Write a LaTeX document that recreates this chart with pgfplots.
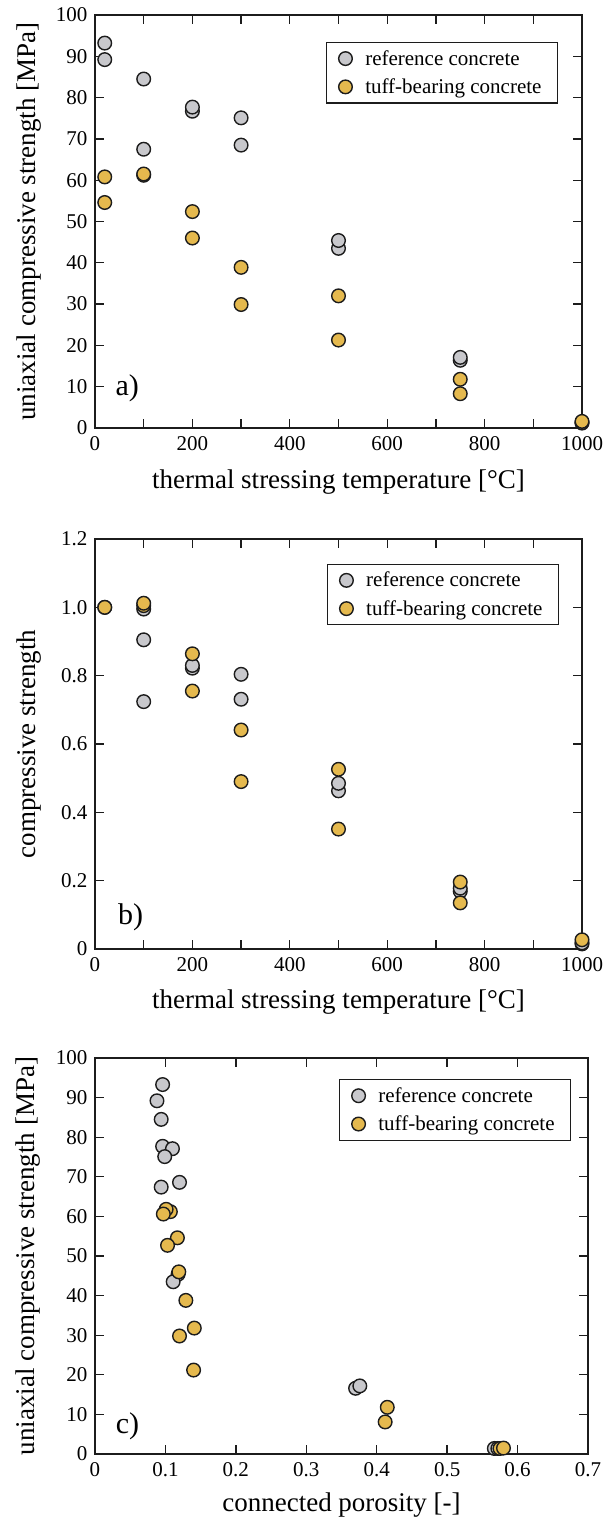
\documentclass[border=0pt]{standalone}
\usepackage{fontspec}
\setmainfont{Liberation Serif}
\usepackage{pgfplots}
\pgfplotsset{compat=1.18}

\definecolor{refgray}{RGB}{200,200,204}
\definecolor{tuffyel}{RGB}{229,185,78}
\definecolor{edge}{RGB}{28,28,28}

\newcommand{\gap}{\hspace*{9pt}}

\pgfplotsset{
  panel/.style={
    scale only axis,
    clip=false,
    axis line style={line width=1.6pt, edge},
    tick style={line width=1.3pt, edge},
    tick align=inside,
    major tick length=9pt,
    minor tick length=9pt,
    tick label style={font=\fontsize{21}{21}\selectfont},
    xticklabel style={yshift=-5pt},
    yticklabel style={xshift=-4pt},
    /pgf/number format/assume math mode=true,
    /pgf/number format/set thousands separator={},
    label style={font=\fontsize{27}{27}\selectfont},
    xlabel style={at={(axis description cs:0.5,-0.13)}, anchor=center},
    ylabel style={at={(axis description cs:-0.135,0.5)}, anchor=center},
    legend cell align=left,
    legend style={anchor=north east, draw=edge, line width=1.2pt,
      font=\fontsize{21}{23}\selectfont, inner xsep=12pt, inner ysep=6pt,
      row sep=8pt, nodes={inner xsep=4pt}},
  },
  refc/.style={only marks, mark=*, mark size=6.8pt,
    mark options={fill=refgray, draw=edge, line width=1.4pt}},
  tuffc/.style={only marks, mark=*, mark size=6.8pt,
    mark options={fill=tuffyel, draw=edge, line width=1.4pt}},
}

\begin{document}
\begin{tikzpicture}
  \path[use as bounding box] (-95pt,15pt) rectangle (521pt,-1525pt);

  % a) strength vs temperature
  \begin{axis}[panel,
    at={(0pt,0pt)}, anchor=north west,
    width=487pt, height=413pt,
    xmin=0, xmax=1000, ymin=0, ymax=100,
    xtick={0,200,...,1000}, minor xtick={100,300,...,900},
    ytick={0,10,...,100},
    xlabel={thermal stressing temperature [°C]},
    ylabel={uniaxial compressive strength [MPa]},
    legend style={at={(axis description cs:0.951,0.935)}},
  ]
    \addplot[refc] table {
      x     y
      20    89.2
      20    93.2
      100   84.5
      100   67.5
      200   76.7
      200   77.7
      300   75.1
      300   68.5
      500   43.5
      500   45.4
      750   16.4
      750   17.1
      1000  1.2
      1000  1.3
    };
    \addlegendentry{\gap reference concrete}
    \addplot[tuffc] table {
      x     y
      20    60.8
      20    54.6
      100   61.2
      100   61.5
      200   52.4
      200   46.0
      300   38.9
      300   29.9
      500   32.0
      500   21.3
      750   11.8
      750   8.3
      1000  1.6
    };
    \addlegendentry{\gap tuff-bearing concrete}
    \node[font=\fontsize{30}{30}\selectfont, anchor=west] at (rel axis cs:0.035,0.097) {a)};
  \end{axis}

  % b) relative strength vs temperature
  \begin{axis}[panel,
    at={(0pt,-524pt)}, anchor=north west,
    width=487pt, height=410pt,
    xmin=0, xmax=1000, ymin=0, ymax=1.2,
    xtick={0,200,...,1000}, minor xtick={100,300,...,900},
    ytick={0,0.2,0.4,0.6,0.8,1.0,1.2},
    yticklabels={0,0.2,0.4,0.6,0.8,1.0,1.2},
    xlabel={thermal stressing temperature [°C]},
    ylabel={compressive strength},
    legend style={at={(axis description cs:0.953,0.94)}},
  ]
    \addplot[refc] table {
      x     y
      20    1.000
      100   0.995
      100   0.905
      100   0.724
      200   0.822
      200   0.830
      300   0.804
      300   0.731
      500   0.463
      500   0.485
      750   0.169
      750   0.178
      1000  0.015
      1000  0.018
    };
    \addlegendentry{\gap reference concrete}
    \addplot[tuffc] table {
      x     y
      20    1.000
      100   1.005
      100   1.012
      200   0.864
      200   0.755
      300   0.641
      300   0.490
      500   0.526
      500   0.351
      750   0.196
      750   0.135
      1000  0.027
    };
    \addlegendentry{\gap tuff-bearing concrete}
    \node[font=\fontsize{30}{30}\selectfont, anchor=west] at (rel axis cs:0.04,0.078) {b)};
  \end{axis}

  % c) strength vs connected porosity
  \begin{axis}[panel,
    at={(0pt,-1043pt)}, anchor=north west,
    width=493pt, height=396pt,
    xmin=0, xmax=0.7, ymin=0, ymax=100,
    xtick={0,0.1,0.2,0.3,0.4,0.5,0.6,0.7},
    xticklabels={0,0.1,0.2,0.3,0.4,0.5,0.6,0.7},
    ytick={0,10,...,100},
    xlabel={connected porosity [-]},
    ylabel={uniaxial compressive strength [MPa]},
    legend style={at={(axis description cs:0.966,0.947)}},
  ]
    \addplot[refc] table {
      x      y
      0.096  93.3
      0.088  89.2
      0.094  84.5
      0.096  77.7
      0.110  77.1
      0.099  75.1
      0.094  67.4
      0.120  68.6
      0.118  45.4
      0.111  43.5
      0.370  16.6
      0.376  17.2
      0.567  1.4
      0.572  1.4
    };
    \addlegendentry{\gap reference concrete}
    \addplot[tuffc] table {
      x      y
      0.107  61.2
      0.101  61.8
      0.097  60.6
      0.117  54.6
      0.103  52.7
      0.119  46.0
      0.129  38.8
      0.141  31.8
      0.120  29.8
      0.140  21.2
      0.415  11.8
      0.412  8.1
      0.575  1.4
      0.580  1.5
    };
    \addlegendentry{\gap tuff-bearing concrete}
    \node[font=\fontsize{30}{30}\selectfont, anchor=west] at (rel axis cs:0.035,0.07) {c)};
  \end{axis}
\end{tikzpicture}
\end{document}
